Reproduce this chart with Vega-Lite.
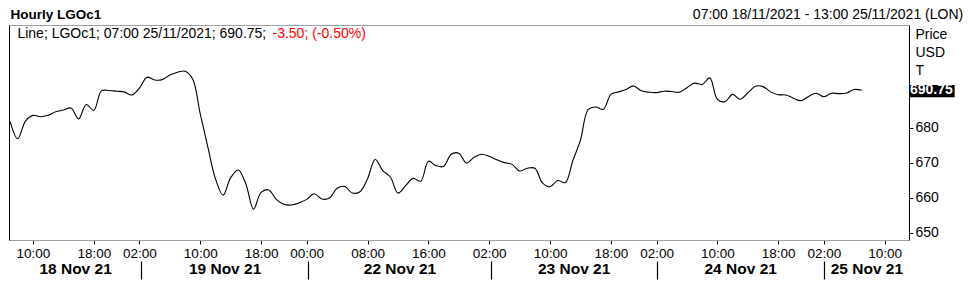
{
  "$schema": "https://vega.github.io/schema/vega-lite/v6.json",
  "autosize": "none",
  "width": 900,
  "height": 215,
  "padding": {"left": 9, "top": 25, "right": 59, "bottom": 46},
  "background": "white",
  "config": {
    "view": {"stroke": null},
    "font": "Liberation Sans",
    "axis": {"labelFont": "Liberation Sans", "titleFont": "Liberation Sans", "labelColor": "black", "titleColor": "black", "grid": false}
  },
  "resolve": {"scale": {"x": "independent"}, "axis": {"x": "independent", "y": "independent"}},
  "layer": [
    {
      "data": {"values": [
        {"i":0,"v":681.8},{"i":1,"v":676.9},{"i":2,"v":681.9},{"i":3,"v":683.6},{"i":4,"v":683.2},{"i":5,"v":683.6},{"i":6,"v":684.6},{"i":7,"v":685.1},{"i":8,"v":685.7},{"i":9,"v":682.6},
        {"i":10,"v":686.7},{"i":11,"v":685.0},{"i":12,"v":690.6},{"i":13,"v":690.7},{"i":14,"v":690.5},{"i":15,"v":690.3},{"i":16,"v":689.4},{"i":17,"v":691.4},{"i":18,"v":694.5},{"i":19,"v":693.7},
        {"i":20,"v":693.8},{"i":21,"v":695.1},{"i":22,"v":695.9},{"i":23,"v":696.2},{"i":24,"v":694.0},{"i":25,"v":684.0},{"i":26,"v":674.5},{"i":27,"v":665.5},{"i":28,"v":660.8},{"i":29,"v":665.8},
        {"i":30,"v":668.0},{"i":31,"v":664.0},{"i":32,"v":656.8},{"i":33,"v":661.6},{"i":34,"v":662.3},{"i":35,"v":659.6},{"i":36,"v":658.2},{"i":37,"v":658.0},{"i":38,"v":658.6},{"i":39,"v":659.6},
        {"i":40,"v":661.2},{"i":41,"v":659.7},{"i":42,"v":660.0},{"i":43,"v":662.8},{"i":44,"v":663.3},{"i":45,"v":661.4},{"i":46,"v":661.8},{"i":47,"v":665.5},{"i":48,"v":671.0},{"i":49,"v":667.8},
        {"i":50,"v":666.0},{"i":51,"v":661.4},{"i":52,"v":663.5},{"i":53,"v":665.6},{"i":54,"v":664.8},{"i":55,"v":670.5},{"i":56,"v":669.2},{"i":57,"v":669.0},{"i":58,"v":672.5},{"i":59,"v":672.8},
        {"i":60,"v":670.0},{"i":61,"v":671.6},{"i":62,"v":672.5},{"i":63,"v":671.9},{"i":64,"v":670.9},{"i":65,"v":670.1},{"i":66,"v":669.6},{"i":67,"v":667.7},{"i":68,"v":668.5},{"i":69,"v":668.5},
        {"i":70,"v":664.3},{"i":71,"v":663.2},{"i":72,"v":665.0},{"i":73,"v":664.4},{"i":74,"v":670.7},{"i":75,"v":676.5},{"i":76,"v":685.2},{"i":77,"v":686.0},{"i":78,"v":685.3},{"i":79,"v":689.6},
        {"i":80,"v":690.3},{"i":81,"v":691.0},{"i":82,"v":692.0},{"i":83,"v":690.6},{"i":84,"v":690.2},{"i":85,"v":690.1},{"i":86,"v":690.5},{"i":87,"v":690.4},{"i":88,"v":690.2},{"i":89,"v":691.5},
        {"i":90,"v":692.8},{"i":91,"v":692.4},{"i":92,"v":694.3},{"i":93,"v":688.2},{"i":94,"v":687.5},{"i":95,"v":689.6},{"i":96,"v":688.2},{"i":97,"v":690.0},{"i":98,"v":691.9},{"i":99,"v":691.8},
        {"i":100,"v":690.3},{"i":101,"v":689.5},{"i":102,"v":689.4},{"i":103,"v":688.5},{"i":104,"v":687.8},{"i":105,"v":689.0},{"i":106,"v":689.9},{"i":107,"v":688.9},{"i":108,"v":689.9},{"i":109,"v":689.8},
        {"i":110,"v":690.0},{"i":111,"v":691.0},{"i":112,"v":690.75}
      ]},
      "mark": {"type": "line", "color": "black", "strokeWidth": 1.1, "interpolate": "catmull-rom"},
      "encoding": {
        "x": {
          "field": "i", "type": "quantitative",
          "scale": {"domain": [-0.15, 118.2], "nice": false, "zero": false},
          "axis": {
            "orient": "bottom", "title": null,
            "values": [3, 11, 17, 25, 33, 39, 47, 55, 63, 71, 79, 85, 93, 101, 107, 115],
            "labelExpr": "{'3':'10:00','11':'18:00','17':'02:00','25':'10:00','33':'18:00','39':'00:00','47':'08:00','55':'16:00','63':'02:00','71':'10:00','79':'18:00','85':'02:00','93':'10:00','101':'18:00','107':'02:00','115':'10:00'}[datum.value]",
            "domainColor": "#a0a0a0", "tickColor": "black", "tickSize": 4,
            "labelFontSize": 13.5, "labelPadding": 2,
            "labelOverlap": false, "labelFlush": false, "labelBound": false
          }
        },
        "y": {
          "field": "v", "type": "quantitative",
          "scale": {"domain": [648, 709.4], "nice": false, "zero": false},
          "axis": {
            "orient": "right", "values": [650, 660, 670, 680],
            "title": ["Price", "USD", "T"], "titleAngle": 0, "titleAlign": "left", "titleBaseline": "top",
            "titleX": 6, "titleY": 2, "titleFontSize": 14, "titleFontWeight": "normal", "titleLineHeight": 18,
            "labelFontSize": 14, "tickSize": 4, "tickColor": "black", "domainColor": "black",
            "labelPadding": 2, "labelFlush": false, "labelOverlap": false
          }
        }
      }
    },
    {
      "data": {"values": [{"v": 690.75}]},
      "mark": {"type": "rect", "color": "black", "clip": false},
      "encoding": {
        "x": {
          "datum": 118.2, "type": "quantitative",
          "scale": {"domain": [-0.15, 118.2], "nice": false, "zero": false},
          "axis": {
            "orient": "bottom", "title": null, "domain": false, "ticks": false, "tickSize": 0,
            "values": [8.54, 28.2, 51.2, 74.1, 96.0, 112.6],
            "labelExpr": "datum.value < 20 ? '18 Nov 21' : datum.value < 40 ? '19 Nov 21' : datum.value < 60 ? '22 Nov 21' : datum.value < 80 ? '23 Nov 21' : datum.value < 100 ? '24 Nov 21' : '25 Nov 21'",
            "labelFontSize": 15.5, "labelFontWeight": "bold", "labelPadding": 21,
            "labelOverlap": false, "labelFlush": false, "labelBound": false
          }
        },
        "x2": {"datum": 124.2},
        "y": {"datum": 692.3, "type": "quantitative", "axis": null},
        "y2": {"datum": 688.8}
      }
    },
    {
      "data": {"values": [{"v": 690.75}]},
      "mark": {"type": "text", "color": "white", "fontWeight": "bold", "fontSize": 14, "align": "left", "baseline": "middle", "dx": 1, "clip": false},
      "encoding": {
        "x": {
          "datum": 118.2, "type": "quantitative",
          "scale": {"domain": [-0.15, 118.2], "nice": false, "zero": false},
          "axis": {
            "orient": "bottom", "title": null, "domain": false, "labels": false,
            "values": [17.2, 39.2, 63.2, 85.05, 107],
            "offset": 21, "tickSize": 18, "tickColor": "black", "tickWidth": 1.2
          }
        },
        "y": {"field": "v", "type": "quantitative", "axis": null},
        "text": {"field": "v", "type": "quantitative", "format": ".2f"}
      }
    },
    {
      "data": {"values": [{"t": "Line; LGOc1; 07:00 25/11/2021; 690.75;"}]},
      "mark": {"type": "text", "color": "black", "fontSize": 14, "align": "left", "baseline": "middle"},
      "encoding": {
        "x": {
          "datum": 0.96, "type": "quantitative",
          "scale": {"domain": [-0.15, 118.2], "nice": false, "zero": false},
          "axis": {
            "orient": "top", "labels": false, "ticks": false, "domain": true, "domainColor": "#a0a0a0",
            "title": "Hourly LGOc1", "titleX": 1, "titleY": -11, "titleAlign": "left", "titleBaseline": "middle",
            "titleFontSize": 13.5, "titleFontWeight": "bold", "titleAngle": 0
          }
        },
        "y": {
          "datum": 706.9, "type": "quantitative",
          "axis": {"orient": "left", "labels": false, "ticks": false, "domain": true, "domainColor": "black", "title": null}
        },
        "text": {"field": "t"}
      }
    },
    {
      "data": {"values": [{"t": "-3.50; (-0.50%)"}]},
      "mark": {"type": "text", "color": "#ff0000", "fontSize": 14, "align": "left", "baseline": "middle"},
      "encoding": {
        "x": {
          "datum": 34.5, "type": "quantitative",
          "scale": {"domain": [-0.15, 118.2], "nice": false, "zero": false},
          "axis": {
            "orient": "top", "labels": false, "ticks": false, "domain": false,
            "title": "07:00 18/11/2021 - 13:00 25/11/2021 (LON)", "titleX": 953.7, "titleY": -11,
            "titleAlign": "right", "titleBaseline": "middle", "titleFontSize": 14, "titleFontWeight": "normal", "titleAngle": 0
          }
        },
        "y": {"datum": 706.9, "type": "quantitative", "axis": null},
        "text": {"field": "t"}
      }
    }
  ]
}
